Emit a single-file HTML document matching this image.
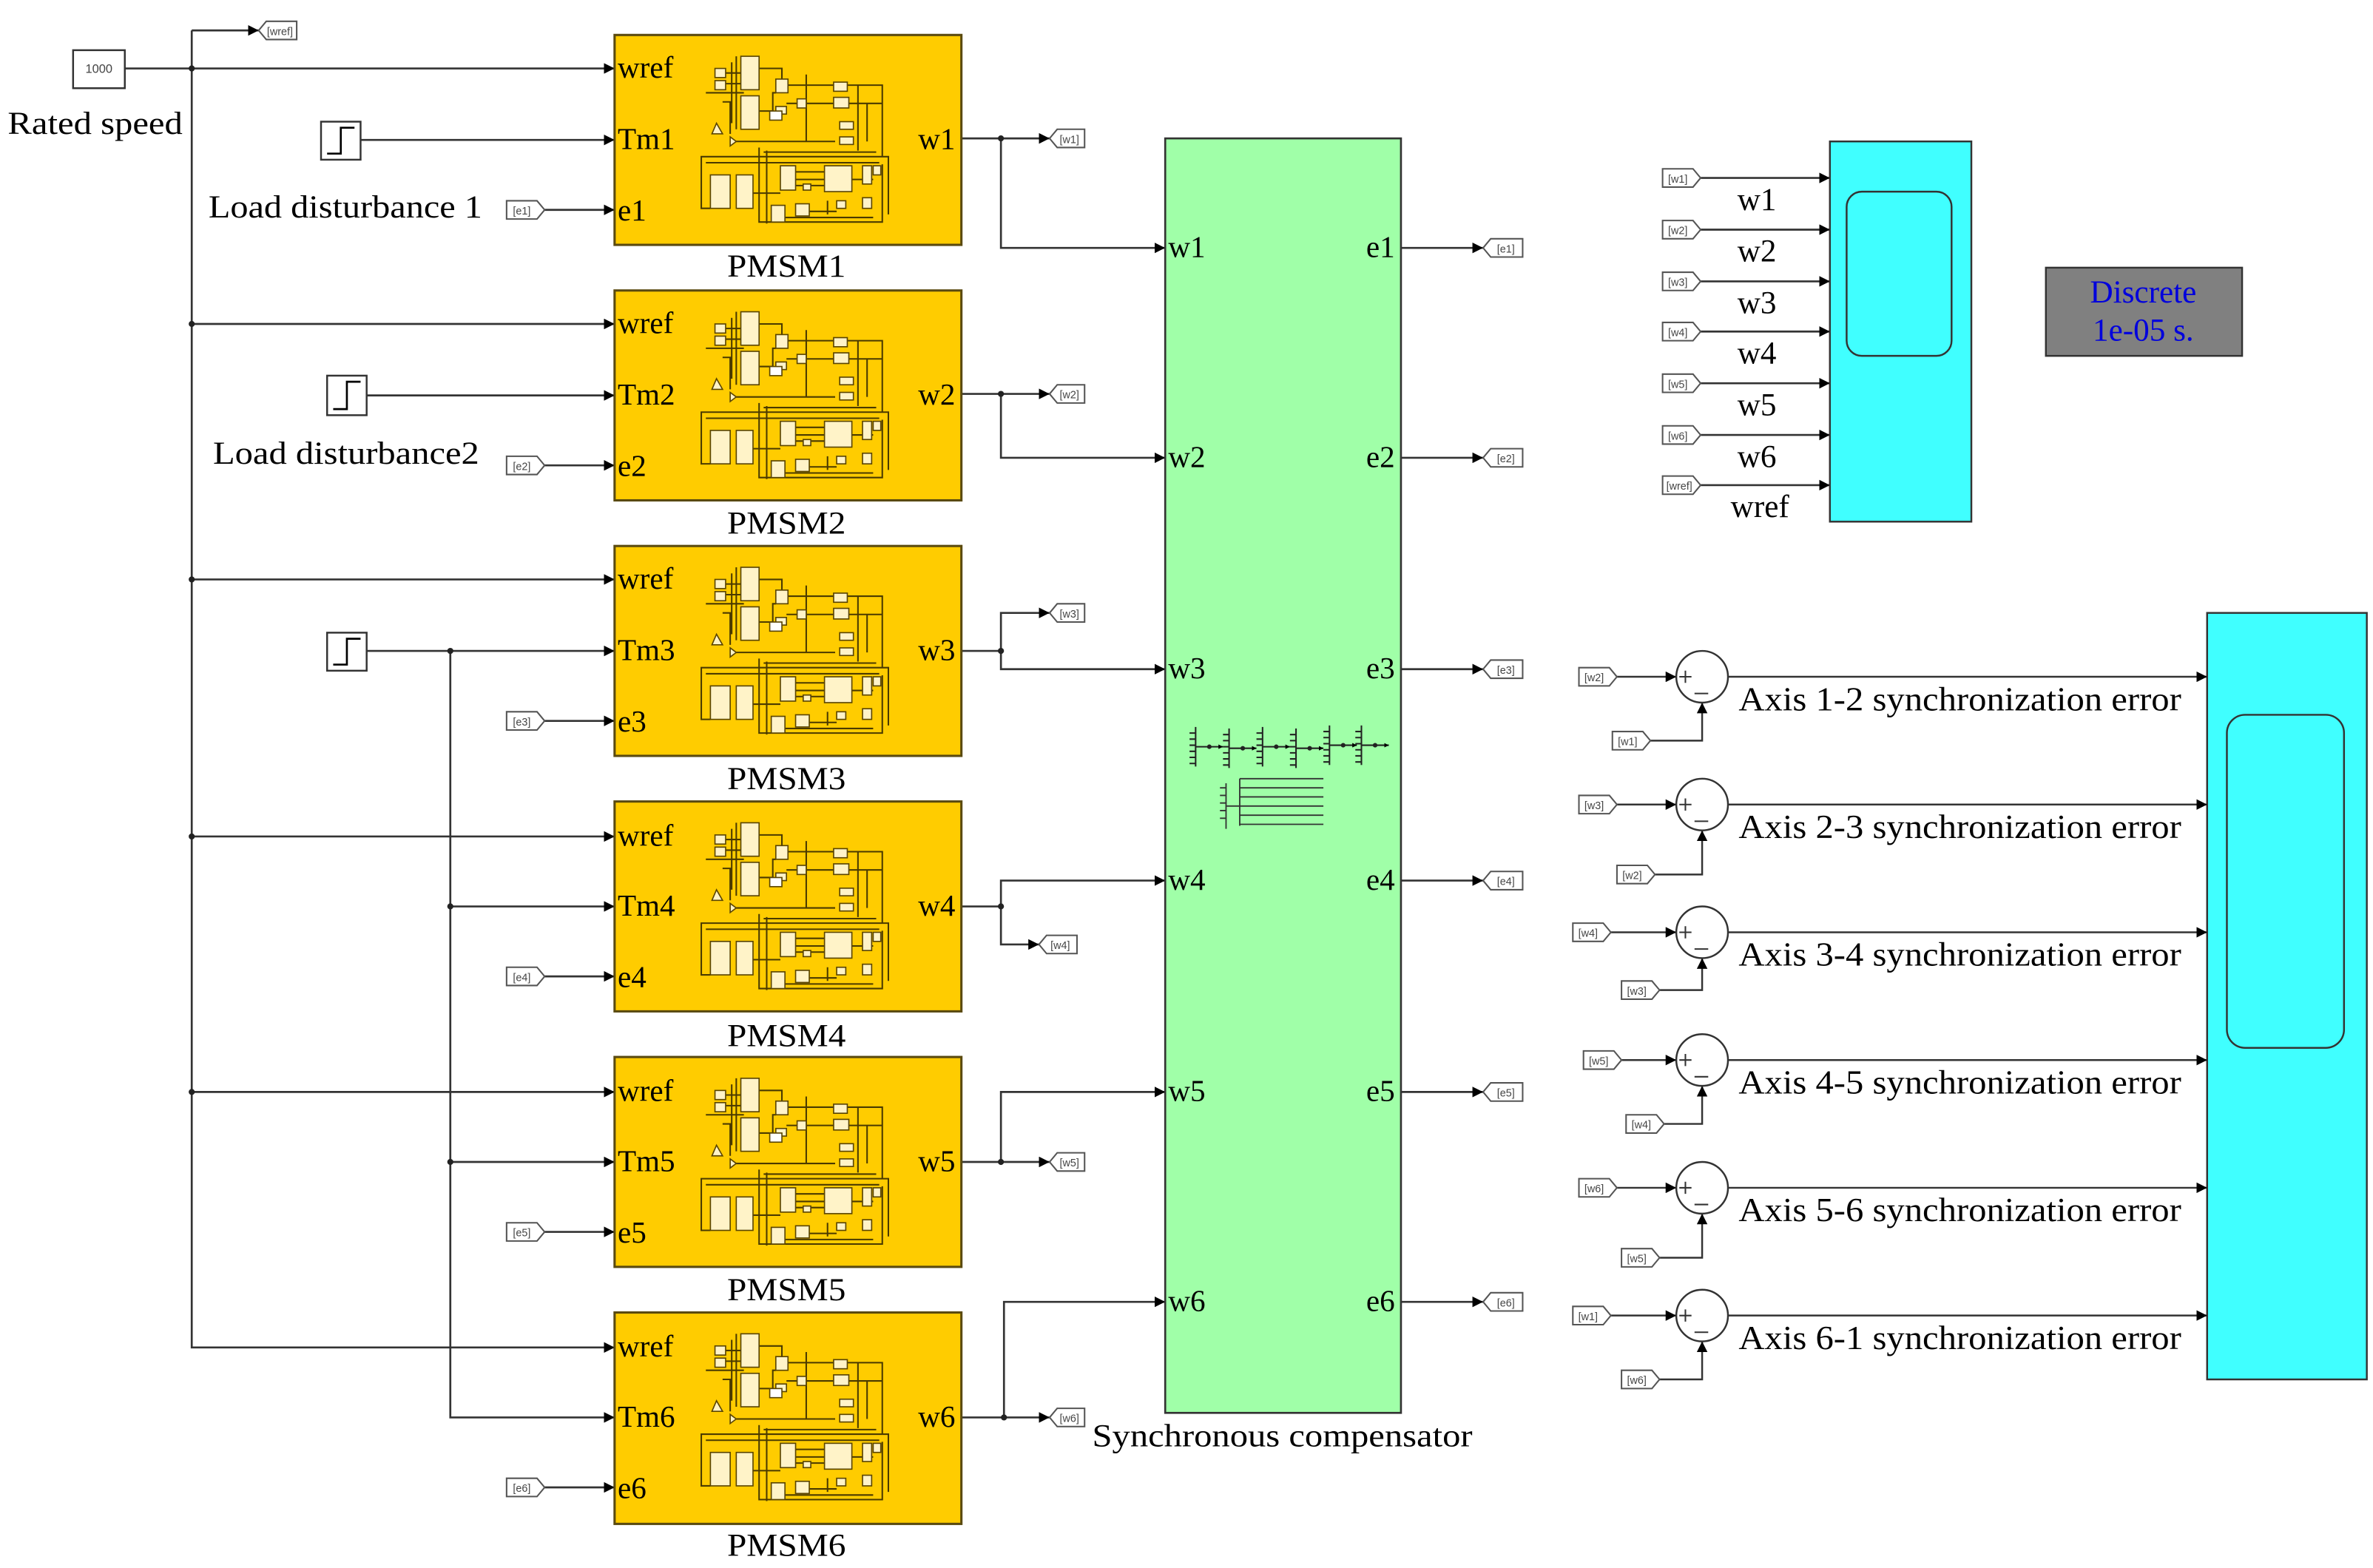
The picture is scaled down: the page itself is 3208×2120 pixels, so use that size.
<!DOCTYPE html>
<html><head><meta charset="utf-8">
<style>
html,body{margin:0;padding:0;background:#fff;}
svg{display:block;}
text{font-family:"Liberation Serif",serif;fill:#000;}
.t{font-family:"Liberation Sans",sans-serif;font-size:7px;fill:#444;}
</style></head>
<body>
<svg width="3208" height="2120" viewBox="0 0 1560 1031" xmlns="http://www.w3.org/2000/svg">
<defs>
<marker id="a" viewBox="0 0 10 10" refX="10" refY="5" markerWidth="7" markerHeight="7" markerUnits="userSpaceOnUse" orient="auto"><path d="M0,0L10,5L0,10z" fill="#000"/></marker>
<marker id="s" viewBox="0 0 10 10" refX="10" refY="5" markerWidth="3" markerHeight="3" markerUnits="userSpaceOnUse" orient="auto"><path d="M0,0L10,5L0,10z" fill="#000"/></marker>
<g id="pm" fill="#fff3c8" stroke="#5a4500" stroke-width="0.8">
  <g fill="none" stroke="#4a3a00" stroke-width="1">
    <path d="M73,25H83 M73,32H83 M95,22H110V33 M95,50H104V38H106 M113,33H176V80H57V114H63 M113,45H176 M76,70H145 M60,38H85 M71,44H76V65 M95,74V123H176V85 M100,80H180V118 M91,104H109 M119,95H138 M156,95H170 M128,116H146 M112,120H170 M80,14V62 M77,18V58 M126,26V70 M160,33V76 M166,45V70 M98,77H172 M100,76V124 M60,84H174 M119,90H138 M119,99H138 M140,109V118"/>
  </g>
  <rect x="83" y="14" width="12" height="22"/>
  <rect x="83" y="40" width="12" height="22"/>
  <rect x="66" y="22" width="7" height="6"/>
  <rect x="66" y="30" width="7" height="6"/>
  <rect x="106" y="29" width="8" height="9"/>
  <rect x="144" y="31" width="9" height="6"/>
  <rect x="144" y="41" width="10" height="7"/>
  <rect x="120" y="42" width="6" height="6"/>
  <rect x="106" y="47" width="7" height="5"/>
  <rect x="148" y="57" width="9" height="5"/>
  <rect x="148" y="67" width="9" height="5"/>
  <polygon points="64,65 67,58 71,65"/>
  <polygon points="76,67 80,70 76,73"/>
  <rect x="63" y="92" width="13" height="22"/>
  <rect x="80" y="92" width="11" height="22"/>
  <rect x="109" y="86" width="10" height="16"/>
  <rect x="138" y="86" width="18" height="17"/>
  <rect x="163" y="86" width="6" height="12"/>
  <rect x="170" y="86" width="5" height="6"/>
  <rect x="103" y="112" width="9" height="11"/>
  <rect x="119" y="111" width="9" height="8"/>
  <rect x="146" y="109" width="6" height="5"/>
  <rect x="163" y="107" width="6" height="7"/>
  <rect x="124" y="98" width="5" height="4"/>
  <rect x="102" y="50" width="8" height="6" fill="#fff"/>
</g>
<g id="bus" stroke="#222" stroke-width="1" fill="none">
  <path d="M0,0V26"/>
  <path d="M0,13H18" marker-end="url(#s)"/>
  <path d="M0,4H-4 M0,8H-4 M0,12H-4 M0,16H-4 M0,20H-4 M0,24H-4"/>
  <circle cx="9" cy="13" r="1" fill="#222"/>
</g>
</defs>

<g stroke="#333" stroke-width="1.3" fill="none">
<path d="M126,20H170" marker-end="url(#a)"/>
<path d="M82,45H404" marker-end="url(#a)"/>
<path d="M126,20V886H404" marker-end="url(#a)"/>
<path d="M126,213H404" marker-end="url(#a)"/>
<path d="M126,381H404" marker-end="url(#a)"/>
<path d="M126,550H404" marker-end="url(#a)"/>
<path d="M126,718H404" marker-end="url(#a)"/>
<path d="M237,92H404" marker-end="url(#a)"/>
<path d="M241,260H404" marker-end="url(#a)"/>
<path d="M241,428H404" marker-end="url(#a)"/>
<path d="M296,428V932H404" marker-end="url(#a)"/>
<path d="M296,596H404" marker-end="url(#a)"/>
<path d="M296,764H404" marker-end="url(#a)"/>
<path d="M358,138H404" marker-end="url(#a)"/>
<path d="M358,306H404" marker-end="url(#a)"/>
<path d="M358,474H404" marker-end="url(#a)"/>
<path d="M358,642H404" marker-end="url(#a)"/>
<path d="M358,810H404" marker-end="url(#a)"/>
<path d="M358,978H404" marker-end="url(#a)"/>
<path d="M632,91H690" marker-end="url(#a)"/>
<path d="M658,91V163H766" marker-end="url(#a)"/>
<path d="M632,259H690" marker-end="url(#a)"/>
<path d="M658,259V301H766" marker-end="url(#a)"/>
<path d="M632,428H658V403H690" marker-end="url(#a)"/>
<path d="M658,428V440H766" marker-end="url(#a)"/>
<path d="M632,596H658V579H766" marker-end="url(#a)"/>
<path d="M658,596V621H683" marker-end="url(#a)"/>
<path d="M632,764H690" marker-end="url(#a)"/>
<path d="M658,764V718H766" marker-end="url(#a)"/>
<path d="M632,932H690" marker-end="url(#a)"/>
<path d="M660,932V856H766" marker-end="url(#a)"/>
<path d="M921,163H975" marker-end="url(#a)"/>
<path d="M921,301H975" marker-end="url(#a)"/>
<path d="M921,440H975" marker-end="url(#a)"/>
<path d="M921,579H975" marker-end="url(#a)"/>
<path d="M921,718H975" marker-end="url(#a)"/>
<path d="M921,856H975" marker-end="url(#a)"/>
<path d="M1118,117H1203" marker-end="url(#a)"/>
<path d="M1118,151H1203" marker-end="url(#a)"/>
<path d="M1118,185H1203" marker-end="url(#a)"/>
<path d="M1118,218H1203" marker-end="url(#a)"/>
<path d="M1118,252H1203" marker-end="url(#a)"/>
<path d="M1118,286H1203" marker-end="url(#a)"/>
<path d="M1118,319H1203" marker-end="url(#a)"/>
</g>
<g fill="#222">
<circle cx="126" cy="45" r="2"/><circle cx="126" cy="213" r="2"/><circle cx="126" cy="381" r="2"/>
<circle cx="126" cy="550" r="2"/><circle cx="126" cy="718" r="2"/>
<circle cx="296" cy="428" r="2"/><circle cx="296" cy="596" r="2"/><circle cx="296" cy="764" r="2"/>
<circle cx="658" cy="91" r="2"/><circle cx="658" cy="259" r="2"/><circle cx="658" cy="428" r="2"/>
<circle cx="658" cy="596" r="2"/><circle cx="658" cy="764" r="2"/><circle cx="660" cy="932" r="2"/>
</g>

<rect x="48" y="33" width="34" height="25" fill="#fff" stroke="#333" stroke-width="1.2"/>
<text x="65" y="48" class="t" text-anchor="middle" style="font-size:8px">1000</text>
<text x="5" y="88" font-size="21" textLength="115" lengthAdjust="spacingAndGlyphs">Rated speed</text>
<g fill="#fff" stroke="#333" stroke-width="1.2">
<rect x="211" y="80" width="26" height="25"/>
<rect x="215" y="247" width="26" height="26"/>
<rect x="215" y="416" width="26" height="25"/>
</g>
<g fill="none" stroke="#000" stroke-width="1.3">
<path d="M215,101H224V84H233"/><path d="M219,269H228V251H237"/><path d="M219,437H228V420H237"/>
</g>
<text x="137" y="143" font-size="21" textLength="180" lengthAdjust="spacingAndGlyphs">Load disturbance 1</text>
<text x="140" y="305" font-size="21" textLength="175" lengthAdjust="spacingAndGlyphs">Load disturbance2</text>

<g fill="#fff" stroke="#555" stroke-width="1">
<polygon points="170,20 175,14 195,14 195,26 175,26"/>
<polygon points="333,132 353,132 358,138 353,144 333,144"/>
<polygon points="333,300 353,300 358,306 353,312 333,312"/>
<polygon points="333,468 353,468 358,474 353,480 333,480"/>
<polygon points="333,636 353,636 358,642 353,648 333,648"/>
<polygon points="333,804 353,804 358,810 353,816 333,816"/>
<polygon points="333,972 353,972 358,978 353,984 333,984"/>
<polygon points="690,91 695,85 713,85 713,97 695,97"/>
<polygon points="690,259 695,253 713,253 713,265 695,265"/>
<polygon points="690,403 695,397 713,397 713,409 695,409"/>
<polygon points="683,621 688,615 708,615 708,627 688,627"/>
<polygon points="690,764 695,758 713,758 713,770 695,770"/>
<polygon points="690,932 695,926 713,926 713,938 695,938"/>
<polygon points="975,163 980,157 1001,157 1001,169 980,169"/>
<polygon points="975,301 980,295 1001,295 1001,307 980,307"/>
<polygon points="975,440 980,434 1001,434 1001,446 980,446"/>
<polygon points="975,579 980,573 1001,573 1001,585 980,585"/>
<polygon points="975,718 980,712 1001,712 1001,724 980,724"/>
<polygon points="975,856 980,850 1001,850 1001,862 980,862"/>
<polygon points="1093,111 1113,111 1118,117 1113,123 1093,123"/>
<polygon points="1093,145 1113,145 1118,151 1113,157 1093,157"/>
<polygon points="1093,179 1113,179 1118,185 1113,191 1093,191"/>
<polygon points="1093,212 1113,212 1118,218 1113,224 1093,224"/>
<polygon points="1093,246 1113,246 1118,252 1113,258 1093,258"/>
<polygon points="1093,280 1113,280 1118,286 1113,292 1093,292"/>
<polygon points="1093,313 1113,313 1118,319 1113,325 1093,325"/>
</g>
<g class="t" text-anchor="middle">
<text x="184" y="23" class="t">[wref]</text>
<text x="343" y="141" class="t">[e1]</text><text x="343" y="309" class="t">[e2]</text>
<text x="343" y="477" class="t">[e3]</text><text x="343" y="645" class="t">[e4]</text>
<text x="343" y="813" class="t">[e5]</text><text x="343" y="981" class="t">[e6]</text>
<text x="703" y="94" class="t">[w1]</text><text x="703" y="262" class="t">[w2]</text>
<text x="703" y="406" class="t">[w3]</text><text x="697" y="624" class="t">[w4]</text>
<text x="703" y="767" class="t">[w5]</text><text x="703" y="935" class="t">[w6]</text>
<text x="990" y="166" class="t">[e1]</text><text x="990" y="304" class="t">[e2]</text>
<text x="990" y="443" class="t">[e3]</text><text x="990" y="582" class="t">[e4]</text>
<text x="990" y="721" class="t">[e5]</text><text x="990" y="859" class="t">[e6]</text>
<text x="1103" y="120" class="t">[w1]</text><text x="1103" y="154" class="t">[w2]</text>
<text x="1103" y="188" class="t">[w3]</text><text x="1103" y="221" class="t">[w4]</text>
<text x="1103" y="255" class="t">[w5]</text><text x="1103" y="289" class="t">[w6]</text>
<text x="1104" y="322" class="t">[wref]</text>
</g>

<g fill="#ffcc00" stroke="#5a4a10" stroke-width="1.5">
<rect x="404" y="23" width="228" height="138"/>
<rect x="404" y="191" width="228" height="138"/>
<rect x="404" y="359" width="228" height="138"/>
<rect x="404" y="527" width="228" height="138"/>
<rect x="404" y="695" width="228" height="138"/>
<rect x="404" y="863" width="228" height="139"/>
</g>
<use href="#pm" x="404" y="23"/><use href="#pm" x="404" y="191"/><use href="#pm" x="404" y="359"/>
<use href="#pm" x="404" y="527"/><use href="#pm" x="404" y="695"/><use href="#pm" x="404" y="863"/>
<g font-size="20">
<text x="406" y="51">wref</text><text x="406" y="98">Tm1</text><text x="406" y="145">e1</text><text x="628" y="98" text-anchor="end">w1</text>
<text x="406" y="219">wref</text><text x="406" y="266">Tm2</text><text x="406" y="313">e2</text><text x="628" y="266" text-anchor="end">w2</text>
<text x="406" y="387">wref</text><text x="406" y="434">Tm3</text><text x="406" y="481">e3</text><text x="628" y="434" text-anchor="end">w3</text>
<text x="406" y="556">wref</text><text x="406" y="602">Tm4</text><text x="406" y="649">e4</text><text x="628" y="602" text-anchor="end">w4</text>
<text x="406" y="724">wref</text><text x="406" y="770">Tm5</text><text x="406" y="817">e5</text><text x="628" y="770" text-anchor="end">w5</text>
<text x="406" y="892">wref</text><text x="406" y="938">Tm6</text><text x="406" y="985">e6</text><text x="628" y="938" text-anchor="end">w6</text>
</g>
<g font-size="21">
<text x="478" y="182" textLength="78" lengthAdjust="spacingAndGlyphs">PMSM1</text>
<text x="478" y="351" textLength="78" lengthAdjust="spacingAndGlyphs">PMSM2</text>
<text x="478" y="519" textLength="78" lengthAdjust="spacingAndGlyphs">PMSM3</text>
<text x="478" y="688" textLength="78" lengthAdjust="spacingAndGlyphs">PMSM4</text>
<text x="478" y="855" textLength="78" lengthAdjust="spacingAndGlyphs">PMSM5</text>
<text x="478" y="1023" textLength="78" lengthAdjust="spacingAndGlyphs">PMSM6</text>
</g>

<rect x="766" y="91" width="155" height="838" fill="#a0ffa8" stroke="#333" stroke-width="1.3"/>
<use href="#bus" x="786" y="478"/><use href="#bus" x="808" y="479"/><use href="#bus" x="830" y="478"/>
<use href="#bus" x="852" y="479"/><use href="#bus" x="874" y="477"/><use href="#bus" x="895" y="477"/>
<g stroke="#333" stroke-width="0.9" fill="none">
<path d="M806,515V545 M802,518H806 M802,523H806 M802,528H806 M802,533H806 M802,538H806 M806,530H815 M815,512V543"/>
<path d="M815,512H870 M815,518H870 M815,524H870 M815,530H870 M815,536H870 M815,542H870"/>
</g>
<g font-size="20">
<text x="768" y="169">w1</text><text x="768" y="307">w2</text><text x="768" y="446">w3</text>
<text x="768" y="585">w4</text><text x="768" y="724">w5</text><text x="768" y="862">w6</text>
<text x="917" y="169" text-anchor="end">e1</text><text x="917" y="307" text-anchor="end">e2</text>
<text x="917" y="446" text-anchor="end">e3</text><text x="917" y="585" text-anchor="end">e4</text>
<text x="917" y="724" text-anchor="end">e5</text><text x="917" y="862" text-anchor="end">e6</text>
</g>
<text x="718" y="951" font-size="21" textLength="250" lengthAdjust="spacingAndGlyphs">Synchronous compensator</text>

<rect x="1203" y="93" width="93" height="250" fill="#40ffff" stroke="#333" stroke-width="1.2"/>
<rect x="1214" y="126" width="69" height="108" rx="10" fill="none" stroke="#333" stroke-width="1.2"/>
<g font-size="21" text-anchor="middle">
<text x="1155" y="138">w1</text><text x="1155" y="172">w2</text><text x="1155" y="206">w3</text>
<text x="1155" y="239">w4</text><text x="1155" y="273">w5</text><text x="1155" y="307">w6</text>
<text x="1157" y="340">wref</text>
</g>
<rect x="1345" y="176" width="129" height="58" fill="#808080" stroke="#333" stroke-width="1.2"/>
<text x="1409" y="199" font-size="21" text-anchor="middle" style="fill:#0000dd">Discrete</text>
<text x="1409" y="224" font-size="21" text-anchor="middle" style="fill:#0000dd">1e-05 s.</text>

<rect x="1451" y="403" width="105" height="504" fill="#40ffff" stroke="#333" stroke-width="1.2"/>
<rect x="1464" y="470" width="77" height="219" rx="12" fill="none" stroke="#333" stroke-width="1.2"/>

<g stroke="#333" stroke-width="1.2" fill="none">
<path d="M1063,445H1102" marker-end="url(#a)"/><path d="M1085,487H1119V462" marker-end="url(#a)"/><path d="M1136,445H1451" marker-end="url(#a)"/>
<path d="M1063,529H1102" marker-end="url(#a)"/><path d="M1088,575H1119V546" marker-end="url(#a)"/><path d="M1136,529H1451" marker-end="url(#a)"/>
<path d="M1059,613H1102" marker-end="url(#a)"/><path d="M1091,651H1119V630" marker-end="url(#a)"/><path d="M1136,613H1451" marker-end="url(#a)"/>
<path d="M1066,697H1102" marker-end="url(#a)"/><path d="M1094,739H1119V714" marker-end="url(#a)"/><path d="M1136,697H1451" marker-end="url(#a)"/>
<path d="M1063,781H1102" marker-end="url(#a)"/><path d="M1091,827H1119V798" marker-end="url(#a)"/><path d="M1136,781H1451" marker-end="url(#a)"/>
<path d="M1059,865H1102" marker-end="url(#a)"/><path d="M1091,907H1119V882" marker-end="url(#a)"/><path d="M1136,865H1451" marker-end="url(#a)"/>
</g>
<g fill="#fff" stroke="#333" stroke-width="1.2">
<circle cx="1119" cy="445" r="17"/><circle cx="1119" cy="529" r="17"/><circle cx="1119" cy="613" r="17"/>
<circle cx="1119" cy="697" r="17"/><circle cx="1119" cy="781" r="17"/><circle cx="1119" cy="865" r="17"/>
</g>
<g stroke="#333" stroke-width="1" fill="none">
<path d="M1104,445H1112M1108,441V449M1114,456H1123"/>
<path d="M1104,529H1112M1108,525V533M1114,540H1123"/>
<path d="M1104,613H1112M1108,609V617M1114,624H1123"/>
<path d="M1104,697H1112M1108,693V701M1114,708H1123"/>
<path d="M1104,781H1112M1108,777V785M1114,792H1123"/>
<path d="M1104,865H1112M1108,861V869M1114,876H1123"/>
</g>
<g fill="#fff" stroke="#555" stroke-width="1">
<polygon points="1038,439 1058,439 1063,445 1058,451 1038,451"/>
<polygon points="1060,481 1080,481 1085,487 1080,493 1060,493"/>
<polygon points="1038,523 1058,523 1063,529 1058,535 1038,535"/>
<polygon points="1063,569 1083,569 1088,575 1083,581 1063,581"/>
<polygon points="1034,607 1054,607 1059,613 1054,619 1034,619"/>
<polygon points="1066,645 1086,645 1091,651 1086,657 1066,657"/>
<polygon points="1041,691 1061,691 1066,697 1061,703 1041,703"/>
<polygon points="1069,733 1089,733 1094,739 1089,745 1069,745"/>
<polygon points="1038,775 1058,775 1063,781 1058,787 1038,787"/>
<polygon points="1066,821 1086,821 1091,827 1086,833 1066,833"/>
<polygon points="1034,859 1054,859 1059,865 1054,871 1034,871"/>
<polygon points="1066,901 1086,901 1091,907 1086,913 1066,913"/>
</g>
<g text-anchor="middle">
<text x="1048" y="448" class="t">[w2]</text><text x="1070" y="490" class="t">[w1]</text>
<text x="1048" y="532" class="t">[w3]</text><text x="1073" y="578" class="t">[w2]</text>
<text x="1044" y="616" class="t">[w4]</text><text x="1076" y="654" class="t">[w3]</text>
<text x="1051" y="700" class="t">[w5]</text><text x="1079" y="742" class="t">[w4]</text>
<text x="1048" y="784" class="t">[w6]</text><text x="1076" y="830" class="t">[w5]</text>
<text x="1044" y="868" class="t">[w1]</text><text x="1076" y="910" class="t">[w6]</text>
</g>
<g font-size="22">
<text x="1143" y="467" textLength="291" lengthAdjust="spacingAndGlyphs">Axis 1-2 synchronization error</text>
<text x="1143" y="551" textLength="291" lengthAdjust="spacingAndGlyphs">Axis 2-3 synchronization error</text>
<text x="1143" y="635" textLength="291" lengthAdjust="spacingAndGlyphs">Axis 3-4 synchronization error</text>
<text x="1143" y="719" textLength="291" lengthAdjust="spacingAndGlyphs">Axis 4-5 synchronization error</text>
<text x="1143" y="803" textLength="291" lengthAdjust="spacingAndGlyphs">Axis 5-6 synchronization error</text>
<text x="1143" y="887" textLength="291" lengthAdjust="spacingAndGlyphs">Axis 6-1 synchronization error</text>
</g>
</svg>
</body></html>
